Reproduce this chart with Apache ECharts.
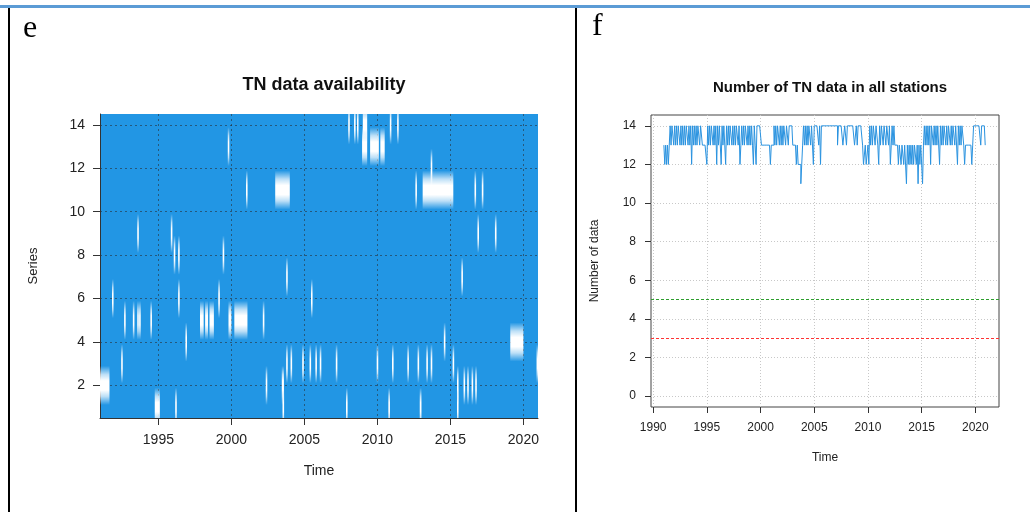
<!DOCTYPE html>
<html>
<head>
<meta charset="utf-8">
<script src="https://cdn.jsdelivr.net/npm/echarts@6/dist/echarts.min.js"></script>
<style>
  html, body { margin: 0; padding: 0; background: #fff; }
  #main { width: 1030px; height: 512px; }
</style>
</head>
<body>
<div id="main"></div>
<script>
// ---- panel e : missing stretches per series [series, start year, end year]
var gapSeries = [14, 14, 14, 14, 14, 14,
                 13, 13, 13, 13, 12,
                 11, 11, 11, 11, 11, 11,
                 9, 9, 9, 9,
                 8, 8, 8,
                 7, 7,
                 6, 6, 6, 6,
                 5, 5, 5, 5, 5, 5, 5, 5, 5, 5, 5,
                 4, 4, 4,
                 3, 3, 3, 3, 3, 3, 3, 3, 3, 3, 3, 3, 3, 3, 3, 3,
                 2, 2, 2, 2, 2, 2, 2, 2,
                 1, 1, 1, 1, 1, 1, 1];
var gapStart = [2008.0, 2008.4, 2008.6, 2009.0, 2010.85, 2011.35,
                1999.75, 2008.95, 2009.5, 2010.2, 2013.65,
                2001.0, 2003.0, 2012.6, 2013.1, 2016.65, 2017.15,
                1993.55, 1995.85, 2016.85, 2018.05,
                1996.05, 1996.35, 1999.4,
                2003.75, 2015.75,
                1991.82, 1996.35, 1999.1, 2005.45,
                1992.65, 1993.25, 1993.55, 1993.68, 1994.45, 1997.85, 1998.2, 1998.5, 1999.8, 2000.2, 2002.15,
                1996.85, 2014.55, 2019.1,
                1992.45, 2003.75, 2004.05, 2004.85, 2005.35, 2005.75, 2006.05, 2007.15, 2009.95, 2011.0, 2012.05, 2012.75, 2013.35, 2013.65, 2015.15, 2020.9,
                1991.0, 2002.35, 2003.45, 2015.9, 2016.15, 2016.45, 2016.7, 2015.45,
                1994.75, 1996.15, 2003.5, 2007.85, 2010.75, 2012.9, 2015.45];
var gapEnd   = [2008.1, 2008.5, 2008.7, 2009.3, 2010.95, 2011.45,
                1999.85, 2009.3, 2010.1, 2010.5, 2013.75,
                2001.1, 2004.0, 2012.7, 2015.2, 2016.75, 2017.25,
                1993.65, 1995.95, 2016.95, 2018.15,
                1996.15, 1996.45, 1999.5,
                2003.85, 2015.85,
                1991.92, 1996.45, 1999.2, 2005.55,
                1992.75, 1993.35, 1993.62, 1993.75, 1994.55, 1998.1, 1998.4, 1998.8, 2000.0, 2001.1, 2002.25,
                1996.95, 2014.65, 2020.0,
                1992.55, 2003.85, 2004.15, 2004.95, 2005.45, 2005.85, 2006.15, 2007.22, 2010.05, 2011.1, 2012.15, 2012.85, 2013.45, 2013.75, 2015.25, 2021.0,
                1991.65, 2002.45, 2003.6, 2016.0, 2016.25, 2016.55, 2016.8, 2015.55,
                1995.1, 1996.25, 2003.6, 2007.95, 2010.82, 2013.02, 2015.55];

// ---- panel f : monthly number of stations with data, 1991..2020
var countYears = [1991, 1992, 1993, 1994, 1995, 1996, 1997, 1998, 1999, 2000,
                  2001, 2002, 2003, 2004, 2005, 2006, 2007, 2008, 2009, 2010,
                  2011, 2012, 2013, 2014, 2015, 2016, 2017, 2018, 2019, 2020];
var counts = [
  [13,12,13,12,13,12,13,14,13,14,14,13],
  [14,13,14,13,14,14,13,14,13,14,13,14],
  [13,14,14,13,14,13,14,12,14,13,14,13],
  [14,13,14,14,13,14,14,13,13,13,13,13],
  [12,14,13,14,13,14,14,13,14,13,14,12],
  [14,13,14,14,12,14,13,14,13,12,14,13],
  [14,13,14,14,13,14,13,14,13,14,14,13],
  [14,12,13,14,13,14,13,14,14,13,14,13],
  [14,13,14,13,12,14,13,12,14,14,14,14],
  [14,13,13,13,13,13,13,13,13,13,13,12],
  [13,13,13,14,13,14,13,14,14,13,14,13],
  [14,13,14,14,13,14,14,13,14,14,14,14],
  [13,13,13,13,12,13,12,12,12,11,12,13],
  [14,13,14,13,14,13,14,14,13,14,14,12],
  [14,14,14,14,14,13,14,12,14,14,14,14],
  [14,14,14,14,14,14,14,14,14,14,14,14],
  [14,14,13,14,14,14,14,14,13,13,14,14],
  [13,14,14,14,14,14,14,14,14,13,13,14],
  [13,14,14,14,14,14,13,12,12,13,12,12],
  [13,12,14,13,14,13,14,14,13,14,14,13],
  [12,14,13,14,14,13,14,14,13,14,14,13],
  [14,12,13,14,13,14,13,13,13,13,12,13],
  [13,12,13,13,12,13,13,11,13,12,13,12],
  [13,12,13,12,13,13,12,13,11,13,12,13],
  [13,11,13,14,13,14,13,14,13,14,12,14],
  [14,13,14,13,14,13,14,14,12,14,13,14],
  [13,14,14,13,14,13,14,14,13,14,13,14],
  [14,13,14,14,12,14,13,14,13,14,14,13],
  [12,13,13,13,13,13,13,13,12,13,14,14],
  [14,14,14,14,14,14,13,14,14,14,14,13]
];
var thresholdGreen = 5;
var thresholdRed = 3;

var xTicksE = [1995, 2000, 2005, 2010, 2015, 2020];
var yTicksE = [2, 4, 6, 8, 10, 12, 14];
var xTicksF = [1990, 1995, 2000, 2005, 2010, 2015, 2020];
var yTicksF = [0, 2, 4, 6, 8, 10, 12, 14];

var BLUE = '#2296e4';

var gapData = [];
for (var i = 0; i < gapSeries.length; i++) {
  gapData.push([gapSeries[i], gapStart[i], gapEnd[i]]);
}
var countData = [];
for (var y = 0; y < countYears.length; y++) {
  for (var m = 0; m < 12; m++) {
    countData.push([countYears[y] + m / 12, counts[y][m]]);
  }
}

var chart = echarts.init(document.getElementById('main'));

var font = 'Liberation Sans, Arial, sans-serif';
var plain = function (v) { return String(v); };

function renderGap(params, api) {
  var p1 = api.coord([api.value(1), api.value(0) + 0.9]);
  var p2 = api.coord([api.value(2), api.value(0) - 0.9]);
  var w = Math.max(p2[0] - p1[0], 1.6);
  return {
    type: 'rect',
    shape: { x: p1[0], y: p1[1], width: w, height: p2[1] - p1[1] },
    style: {
      fill: new echarts.graphic.LinearGradient(0, 0, 0, 1, [
        { offset: 0, color: 'rgba(255,255,255,0)' },
        { offset: 0.22, color: 'rgba(255,255,255,0.7)' },
        { offset: 0.38, color: '#ffffff' },
        { offset: 0.62, color: '#ffffff' },
        { offset: 0.78, color: 'rgba(255,255,255,0.7)' },
        { offset: 1, color: 'rgba(255,255,255,0)' }
      ])
    }
  };
}

var option = {
  animation: false,
  backgroundColor: '#ffffff',
  textStyle: { fontFamily: font },
  title: [
    { text: 'TN data availability', left: 319, top: 71, textAlign: 'center',
      textStyle: { fontSize: 18, fontWeight: 'bold', color: '#111', fontFamily: font } },
    { text: 'Number of TN data in all stations', left: 825, top: 75, textAlign: 'center',
      textStyle: { fontSize: 15, fontWeight: 'bold', color: '#111', fontFamily: font } },
    { text: 'e', left: 18, top: 8,
      textStyle: { fontSize: 32, fontWeight: 'normal', color: '#000', fontFamily: 'Liberation Serif, serif' } },
    { text: 'f', left: 587, top: 6,
      textStyle: { fontSize: 32, fontWeight: 'normal', color: '#000', fontFamily: 'Liberation Serif, serif' } }
  ],
  graphic: [
    { type: 'rect', shape: { x: 0, y: 5, width: 1030, height: 3 }, style: { fill: '#5b9bd5' } },
    { type: 'rect', shape: { x: 8, y: 8, width: 2, height: 504 }, style: { fill: '#000' } },
    { type: 'rect', shape: { x: 575, y: 8, width: 2, height: 504 }, style: { fill: '#000' } }
  ],
  grid: [
    { left: 100, right: 492, top: 114, bottom: 94, show: true, backgroundColor: BLUE, borderWidth: 0 },
    { left: 651, right: 31, top: 115, bottom: 105, show: true, backgroundColor: '#fff',
      borderColor: '#444', borderWidth: 1 }
  ],
  xAxis: [
    {
      type: 'value', gridIndex: 0, min: 1991, max: 2021,
      name: 'Time', nameLocation: 'middle', nameGap: 46,
      nameTextStyle: { fontSize: 14, color: '#222' },
      axisLine: { show: true, onZero: false, lineStyle: { color: '#333', width: 1 } },
      axisTick: { show: true, length: 7, customValues: xTicksE, lineStyle: { color: '#333' } },
      axisLabel: { customValues: xTicksE, formatter: plain, margin: 15, fontSize: 14, color: '#222' },
      splitLine: { show: true, lineStyle: { color: 'rgba(40,40,40,0.55)', type: [2, 3], width: 1 } }
    },
    {
      type: 'value', gridIndex: 1, min: 1989.8, max: 2022.2,
      name: 'Time', nameLocation: 'middle', nameGap: 45,
      nameTextStyle: { fontSize: 12, color: '#222' },
      axisLine: { show: false, onZero: false },
      axisTick: { show: true, length: 6, customValues: xTicksF, lineStyle: { color: '#333' } },
      axisLabel: { customValues: xTicksF, formatter: plain, margin: 15, fontSize: 12, color: '#222' },
      splitLine: { show: true, lineStyle: { color: '#c8c8c8', type: [1, 2], width: 1 } }
    }
  ],
  yAxis: [
    {
      type: 'value', gridIndex: 0, min: 0.5, max: 14.5,
      name: 'Series', nameLocation: 'middle', nameGap: 60, nameRotate: 90,
      nameTextStyle: { fontSize: 13, color: '#222' },
      axisLine: { show: true, onZero: false, lineStyle: { color: '#333', width: 1 } },
      axisTick: { show: true, length: 7, customValues: yTicksE, lineStyle: { color: '#333' } },
      axisLabel: { customValues: yTicksE, formatter: plain, margin: 15, fontSize: 14, color: '#222' },
      splitLine: { show: true, lineStyle: { color: 'rgba(40,40,40,0.55)', type: [2, 3], width: 1 } }
    },
    {
      type: 'value', gridIndex: 1, min: -0.56, max: 14.56,
      name: 'Number of data', nameLocation: 'middle', nameGap: 50, nameRotate: 90,
      nameTextStyle: { fontSize: 12, color: '#222' },
      axisLine: { show: false, onZero: false },
      axisTick: { show: true, length: 6, customValues: yTicksF, lineStyle: { color: '#333' } },
      axisLabel: { customValues: yTicksF, formatter: plain, margin: 15, fontSize: 12, color: '#222' },
      splitLine: { show: true, lineStyle: { color: '#c8c8c8', type: [1, 2], width: 1 } }
    }
  ],
  series: [
    {
      type: 'custom', name: 'gaps', xAxisIndex: 0, yAxisIndex: 0,
      clip: true, silent: true,
      encode: { x: [1, 2], y: 0 },
      renderItem: renderGap,
      data: gapData
    },
    {
      type: 'line', name: 'count', xAxisIndex: 1, yAxisIndex: 1,
      step: 'end', showSymbol: false, symbol: 'none',
      lineStyle: { color: '#2a93e0', width: 1 },
      data: countData,
      markLine: {
        silent: true, symbol: 'none', label: { show: false },
        data: [
          { yAxis: thresholdGreen, lineStyle: { color: '#2e9e2e', type: [3, 2], width: 1 } },
          { yAxis: thresholdRed, lineStyle: { color: '#ff3333', type: [3, 2], width: 1 } }
        ]
      }
    }
  ]
};

chart.setOption(option);
</script>
</body>
</html>
